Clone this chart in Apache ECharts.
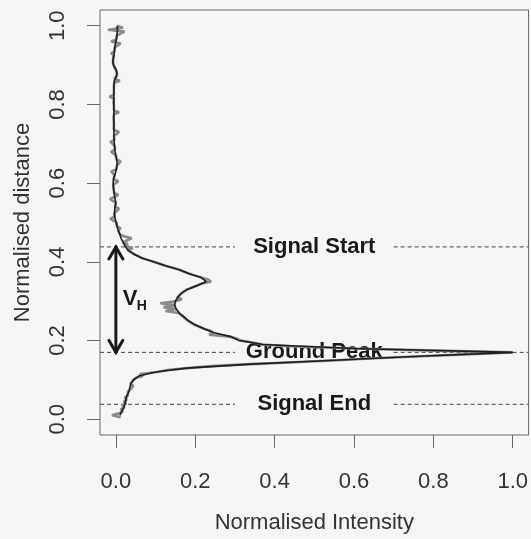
<!DOCTYPE html>
<html>
<head>
<meta charset="utf-8">
<script src="https://cdn.jsdelivr.net/npm/echarts@6/dist/echarts.min.js"></script>
<style>
  html, body { margin: 0; padding: 0; background: #f6f6f6; }
  #chart { width: 531px; height: 539px; }
</style>
</head>
<body>
<div id="chart"></div>
<script>
// Normalised waveform profile: intensity (x) against normalised distance (y)

// Raw waveform samples
const rawDistance = [
  0.005,0.010,0.015,0.020,0.025,0.030,0.035,0.040,0.045,0.050,
  0.055,0.060,0.065,0.070,0.075,0.080,0.085,0.090,0.095,0.100,
  0.105,0.110,0.115,0.120,0.125,0.130,0.135,0.140,0.145,0.150,
  0.155,0.160,0.165,0.170,0.175,0.180,0.185,0.190,0.195,0.200,
  0.205,0.210,0.215,0.220,0.225,0.230,0.235,0.240,0.245,0.250,
  0.255,0.260,0.265,0.270,0.275,0.280,0.285,0.290,0.295,0.300,
  0.305,0.310,0.315,0.320,0.325,0.330,0.335,0.340,0.345,0.350,
  0.355,0.360,0.365,0.370,0.375,0.380,0.385,0.390,0.395,0.400,
  0.405,0.410,0.415,0.420,0.425,0.430,0.435,0.440,0.445,0.450,
  0.455,0.460,0.465,0.470,0.475,0.480,0.485,0.490,0.495,0.500,
  0.505,0.510,0.515,0.520,0.525,0.530,0.535,0.540,0.545,0.550,
  0.555,0.560,0.565,0.570,0.575,0.580,0.585,0.590,0.595,0.600,
  0.605,0.610,0.615,0.620,0.625,0.630,0.635,0.640,0.645,0.650,
  0.655,0.660,0.665,0.670,0.675,0.680,0.685,0.690,0.695,0.700,
  0.705,0.710,0.715,0.720,0.725,0.730,0.735,0.740,0.745,0.750,
  0.755,0.760,0.765,0.770,0.775,0.780,0.785,0.790,0.795,0.800,
  0.805,0.810,0.815,0.820,0.825,0.830,0.835,0.840,0.845,0.850,
  0.855,0.860,0.865,0.870,0.875,0.880,0.885,0.890,0.895,0.900,
  0.905,0.910,0.915,0.920,0.925,0.930,0.935,0.940,0.945,0.950,
  0.955,0.960,0.965,0.970,0.975,0.980,0.985,0.990,0.995,1.000
];
const rawIntensity = [
  0.012,-0.010,0.008,0.018,0.012,0.022,0.016,0.026,0.020,0.028,
  0.022,0.030,0.025,0.030,0.036,0.032,0.044,0.036,0.040,0.044,
  0.050,0.068,0.060,0.105,0.130,0.180,0.240,0.340,0.450,0.560,
  0.650,0.770,0.880,1.000,0.780,0.600,0.450,0.370,0.345,0.315,
  0.305,0.285,0.235,0.245,0.238,0.222,0.218,0.198,0.195,0.182,
  0.178,0.170,0.172,0.158,0.125,0.152,0.120,0.150,0.112,0.150,
  0.166,0.155,0.160,0.165,0.172,0.180,0.192,0.205,0.218,0.240,
  0.232,0.232,0.200,0.185,0.172,0.160,0.155,0.125,0.110,0.095,
  0.080,0.065,0.055,0.045,0.038,0.030,0.043,0.023,0.030,0.018,
  0.016,0.040,0.020,0.010,0.008,0.006,0.012,0.003,0.000,0.001,
  -0.002,-0.014,-0.003,-0.004,-0.003,-0.003,0.008,-0.002,0.000,0.000,
  -0.001,-0.015,-0.003,0.006,-0.004,-0.005,-0.006,-0.006,-0.007,-0.007,
  0.006,-0.006,-0.004,-0.003,-0.001,-0.012,0.001,0.002,0.003,0.003,
  0.012,0.002,0.001,0.000,-0.001,-0.012,-0.002,-0.003,-0.003,-0.004,
  -0.014,-0.004,-0.005,-0.005,-0.005,0.008,-0.005,-0.005,-0.005,-0.005,
  -0.005,-0.005,-0.006,-0.005,-0.005,0.008,-0.005,-0.005,-0.005,-0.005,
  -0.006,-0.005,-0.005,-0.016,-0.005,-0.005,-0.005,-0.005,-0.005,-0.005,
  -0.004,0.010,-0.004,0.001,0.003,0.003,0.001,0.000,-0.004,-0.006,
  -0.007,-0.008,-0.007,-0.006,-0.005,-0.012,-0.004,-0.003,-0.003,-0.002,
  0.012,-0.012,0.001,0.002,0.002,0.003,0.022,-0.020,0.018,0.003
];

// Smoothed waveform
const smoothDistance = [
  0.01,0.02,0.03,0.04,0.05,0.06,0.07,0.08,0.09,0.10,
  0.11,0.12,0.13,0.14,0.15,0.16,0.17,0.18,0.19,0.20,
  0.21,0.22,0.23,0.24,0.25,0.26,0.27,0.28,0.29,0.30,
  0.31,0.32,0.33,0.34,0.35,0.36,0.37,0.38,0.39,0.40,
  0.41,0.42,0.43,0.44,0.45,0.46,0.47,0.48,0.49,0.50,
  0.51,0.52,0.53,0.54,0.55,0.56,0.57,0.58,0.59,0.60,
  0.61,0.62,0.63,0.64,0.65,0.66,0.67,0.68,0.69,0.70,
  0.71,0.72,0.73,0.74,0.75,0.76,0.77,0.78,0.79,0.80,
  0.81,0.82,0.83,0.84,0.85,0.86,0.87,0.88,0.89,0.90,
  0.91,0.92,0.93,0.94,0.95,0.96,0.97,0.98,0.99,1.00
];
const smoothIntensity = [
  0.010,0.015,0.020,0.023,0.025,0.028,0.033,0.035,0.038,0.045,
  0.058,0.100,0.178,0.340,0.550,0.765,1.000,0.600,0.370,0.310,
  0.290,0.248,0.222,0.200,0.183,0.172,0.160,0.152,0.148,0.150,
  0.156,0.165,0.180,0.205,0.228,0.215,0.185,0.160,0.125,0.095,
  0.065,0.045,0.030,0.023,0.018,0.013,0.010,0.006,0.003,0.001,
  -0.002,-0.004,-0.003,-0.002,0.000,-0.002,-0.004,-0.005,-0.006,-0.007,
  -0.006,-0.003,0.000,0.002,0.003,0.002,0.000,-0.002,-0.003,-0.004,
  -0.004,-0.005,-0.005,-0.005,-0.005,-0.005,-0.005,-0.005,-0.005,-0.005,
  -0.005,-0.005,-0.005,-0.005,-0.005,-0.004,0.001,0.003,0.000,-0.006,
  -0.008,-0.006,-0.004,-0.003,-0.002,0.000,0.002,0.003,0.004,0.003
];

// Tick positions
const xTicks = [0.0, 0.2, 0.4, 0.6, 0.8, 1.0];
const yTicks = [0.0, 0.2, 0.4, 0.6, 0.8, 1.0];

// Reference levels and their names
const guideLevels = [0.438, 0.170, 0.038];
const guideNames = ['Signal Start', 'Ground Peak', 'Signal End'];

// Waveform height span (ground peak to signal start), drawn at intensity 0
const heightSpan = [0.0, 0.170, 0.438];

const AXIS_MIN = -0.04, AXIS_MAX = 1.04;
const GAP_FROM = 0.30, GAP_TO = 0.70, LABEL_AT = 0.50;
const FONT = '"Liberation Sans", Arial, Helvetica, sans-serif';

const chart = echarts.init(document.getElementById('chart'), null, { renderer: 'canvas' });

const option = {
  animation: false,
  backgroundColor: '#f6f6f6',
  textStyle: { fontFamily: FONT },
  grid: {
    left: 100, right: 2, top: 10, bottom: 100,
    show: true, borderColor: '#666', borderWidth: 1, backgroundColor: 'transparent'
  },
  xAxis: {
    type: 'value', min: AXIS_MIN, max: AXIS_MAX,
    axisLine: { show: false, onZero: false },
    splitLine: { show: false },
    axisTick: { show: true, customValues: xTicks, length: 13, lineStyle: { color: '#666', width: 1 } },
    axisLabel: {
      customValues: xTicks, formatter: v => v.toFixed(1),
      margin: 36, fontSize: 22, color: '#333', fontFamily: FONT
    },
    name: 'Normalised Intensity', nameLocation: 'middle', nameGap: 77,
    nameTextStyle: { fontSize: 22, color: '#333', fontFamily: FONT }
  },
  yAxis: {
    type: 'value', min: AXIS_MIN, max: AXIS_MAX,
    axisLine: { show: false, onZero: false },
    splitLine: { show: false },
    axisTick: { show: true, customValues: yTicks, length: 13, lineStyle: { color: '#666', width: 1 } },
    axisLabel: {
      customValues: yTicks, formatter: v => v.toFixed(1), rotate: 90,
      margin: 31, fontSize: 22, color: '#333', fontFamily: FONT
    },
    name: 'Normalised distance', nameLocation: 'middle', nameGap: 66,
    nameTextStyle: { fontSize: 22, color: '#333', fontFamily: FONT }
  },
  series: [
    {
      // dashed reference levels with centred names
      type: 'custom',
      coordinateSystem: 'cartesian2d',
      data: guideLevels.map(v => [LABEL_AT, v]),
      renderItem: (params, api) => {
        const y = api.value(1);
        const lo = api.coord([AXIS_MIN, y]);
        const g0 = api.coord([GAP_FROM, y]);
        const g1 = api.coord([GAP_TO, y]);
        const hi = api.coord([AXIS_MAX, y]);
        const mid = api.coord([LABEL_AT, y]);
        const style = { stroke: '#444', lineWidth: 1, lineDash: [4, 3], fill: null };
        return {
          type: 'group',
          children: [
            { type: 'line', shape: { x1: lo[0], y1: lo[1], x2: g0[0], y2: g0[1] }, style },
            { type: 'line', shape: { x1: g1[0], y1: g1[1], x2: hi[0], y2: hi[1] }, style },
            {
              type: 'text', x: mid[0], y: mid[1],
              style: {
                text: guideNames[params.dataIndex],
                font: 'bold 22px ' + FONT, fill: '#1a1a1a',
                align: 'center', verticalAlign: 'middle'
              }
            }
          ]
        };
      }
    },
    {
      // double-headed height arrow with V_H label
      type: 'custom',
      coordinateSystem: 'cartesian2d',
      data: [heightSpan],
      renderItem: (params, api) => {
        const x = api.value(0);
        const p0 = api.coord([x, api.value(1)]);
        const p1 = api.coord([x, api.value(2)]);
        const s = { stroke: '#1a1a1a', lineWidth: 3, fill: null, lineCap: 'round', lineJoin: 'miter' };
        const midY = (p0[1] + p1[1]) / 2;
        return {
          type: 'group',
          children: [
            { type: 'line', shape: { x1: p0[0], y1: p0[1], x2: p1[0], y2: p1[1] }, style: s },
            { type: 'polyline', shape: { points: [[p0[0] - 7, p0[1] - 12], [p0[0], p0[1]], [p0[0] + 7, p0[1] - 12]] }, style: s },
            { type: 'polyline', shape: { points: [[p1[0] - 7, p1[1] + 12], [p1[0], p1[1]], [p1[0] + 7, p1[1] + 12]] }, style: s },
            {
              type: 'text', x: p0[0] + 7, y: midY - 1,
              style: { text: 'V', font: 'bold 22px ' + FONT, fill: '#1a1a1a', align: 'left', verticalAlign: 'middle' }
            },
            {
              type: 'text', x: p0[0] + 21, y: midY + 7,
              style: { text: 'H', font: 'bold 14px ' + FONT, fill: '#1a1a1a', align: 'left', verticalAlign: 'middle' }
            }
          ]
        };
      }
    },
    {
      name: 'Raw',
      type: 'line',
      data: rawIntensity.map((v, i) => [v, rawDistance[i]]),
      showSymbol: false,
      lineStyle: { color: '#8a8a8a', width: 2.6 },
      z: 3
    },
    {
      name: 'Smoothed',
      type: 'line',
      data: smoothIntensity.map((v, i) => [v, smoothDistance[i]]),
      showSymbol: false,
      lineStyle: { color: '#1e1e1e', width: 1.6 },
      z: 4
    }
  ]
};

chart.setOption(option);
</script>
</body>
</html>
